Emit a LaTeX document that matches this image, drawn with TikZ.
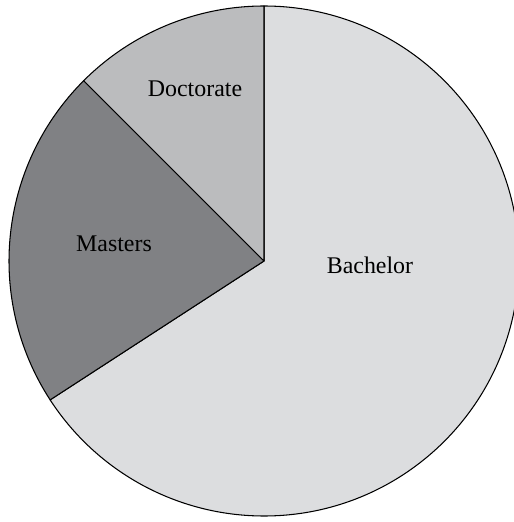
\documentclass[tikz,border=0pt]{standalone}
\usepackage{fontspec}
\setmainfont{Liberation Serif}
\definecolor{bachgray}{RGB}{220,221,223}
\definecolor{docgray}{RGB}{187,188,190}
\definecolor{mastgray}{RGB}{128,129,132}
\tikzset{
  slice/.style={draw=black,line width=0.6pt,line join=round},
  lbl/.style={anchor=base,inner sep=0pt,font=\fontsize{13.6}{16}\selectfont}
}
\begin{document}
\begin{tikzpicture}[x=0.02cm,y=0.02cm]
		\clip(0,0) rectangle (514,522);
		\coordinate (O) at (264,261);
		\draw[slice,fill=bachgray] (O) -- ++(90:255) arc (90:-147:255) -- cycle;
		\draw[slice,fill=mastgray] (O) -- ++(135:255) arc (135:213:255) -- cycle;
		\draw[slice,fill=docgray] (O) -- ++(90:255) arc (90:135:255) -- cycle;
		\node[lbl] (doc) at (195,426) {Doctorate};
		\node[lbl] (mast) at (114,271) {Masters};
		\node[lbl] (bach) at (370,249) {Bachelor};
		%\draw (O) circle (255);
		\end{tikzpicture}
\end{document}
